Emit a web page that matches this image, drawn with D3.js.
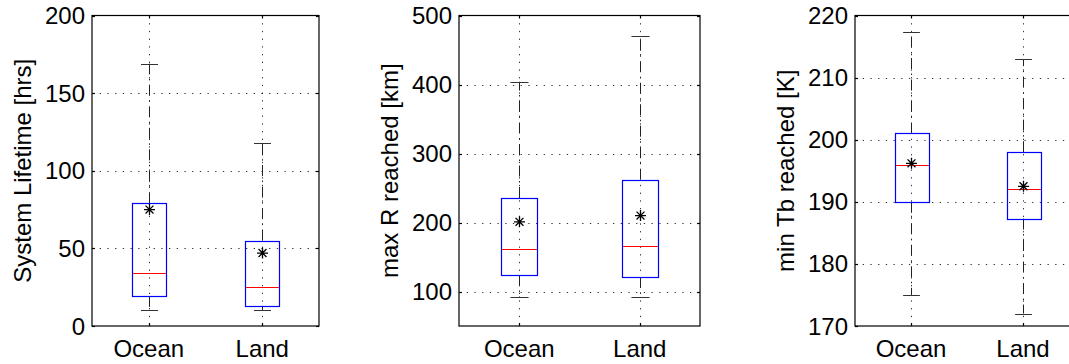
<!DOCTYPE html>
<html>
<head>
<meta charset="utf-8">
<script src="https://cdn.jsdelivr.net/npm/d3@7"></script>
<style>
  html, body { margin: 0; padding: 0; background: #fff; }
  svg { display: block; }
  text { font-family: "Liberation Sans", Arial, Helvetica, sans-serif; fill: #000; }
</style>
</head>
<body>
<svg id="chart" width="1069" height="364"></svg>
<script>
// Groups shown on every panel
const categories = ["Ocean", "Land"];

// Box statistics per group: [lower whisker, Q1, median, Q3, upper whisker]
const lifetimeStats = [[10, 19.3, 34, 79, 169], [10, 13, 25, 55, 118]];
const lifetimeMeans = [75, 47];
const lifetimeTicks = [0, 50, 100, 150, 200];

const radiusStats = [[92, 124, 161, 235.5, 404], [92, 121, 166, 262, 470]];
const radiusMeans = [201, 210];
const radiusTicks = [100, 200, 300, 400, 500];

const tbStats = [[175, 190, 196, 201, 217.3], [172, 187.3, 192, 198, 213]];
const tbMeans = [196.2, 192.5];
const tbTicks = [170, 180, 190, 200, 210, 220];

const panels = [
  { label: "System Lifetime [hrs]", stats: lifetimeStats, means: lifetimeMeans, ticks: lifetimeTicks,
    domain: [0, 200], left: 92, width: 227 },
  { label: "max R reached [km]", stats: radiusStats, means: radiusMeans, ticks: radiusTicks,
    domain: [50, 500], left: 459, width: 241 },
  { label: "min Tb reached [K]", stats: tbStats, means: tbMeans, ticks: tbTicks,
    domain: [170, 220], left: 855, width: 224 }
];

const plotTop = 15.5, plotBottom = 326;
const svg = d3.select("#chart");

panels.forEach(p => {
  const g = svg.append("g");
  const x = d3.scaleLinear().domain([0.5, categories.length + 0.5]).range([p.left, p.left + p.width]);
  const y = d3.scaleLinear().domain(p.domain).range([plotBottom, plotTop]);
  const step = x(2) - x(1);
  const boxW = step * 0.3;
  const capW = boxW / 2;
  const px = v => Math.round(v) + 0.5;

  // dotted grid
  const grid = g.append("g").attr("stroke", "#000").attr("stroke-width", 1)
    .attr("stroke-dasharray", "1.3,6.4").attr("fill", "none");
  p.ticks.filter(t => t > p.domain[0] && t < p.domain[1]).forEach(t => {
    grid.append("line").attr("x1", p.left).attr("x2", p.left + p.width)
      .attr("y1", px(y(t))).attr("y2", px(y(t))).attr("stroke-opacity", 0.8);
  });
  categories.forEach((c, i) => {
    grid.append("line").attr("x1", px(x(i + 1))).attr("x2", px(x(i + 1)))
      .attr("y1", plotTop).attr("y2", plotBottom).attr("stroke-opacity", 0.8);
  });

  // boxes
  categories.forEach((c, i) => {
    const [lo, q1, med, q3, hi] = p.stats[i];
    const cx = px(x(i + 1));
    const wh = g.append("g").attr("stroke", "#222").attr("stroke-width", 1)
      .attr("stroke-dasharray", "11,4.5,1.5,4.5").attr("fill", "none");
    wh.append("line").attr("x1", cx).attr("x2", cx).attr("y1", y(q3)).attr("y2", y(hi));
    wh.append("line").attr("x1", cx).attr("x2", cx).attr("y1", y(q1)).attr("y2", y(lo));
    [lo, hi].forEach(v => {
      g.append("line").attr("x1", cx - capW / 2).attr("x2", cx + capW / 2)
        .attr("y1", px(y(v))).attr("y2", px(y(v))).attr("stroke", "#333").attr("stroke-width", 1);
    });
    g.append("rect").attr("x", px(cx - boxW / 2)).attr("y", px(y(q3)))
      .attr("width", Math.round(boxW)).attr("height", px(y(q1)) - px(y(q3)))
      .attr("fill", "none").attr("stroke", "#0000ff").attr("stroke-width", 1.2);
    g.append("line").attr("x1", px(cx - boxW / 2) + 0.6).attr("x2", px(cx - boxW / 2) + Math.round(boxW) - 0.6)
      .attr("y1", px(y(med))).attr("y2", px(y(med))).attr("stroke", "#ff0000").attr("stroke-width", 1.2);

    // mean marker (asterisk)
    const my = y(p.means[i]), r = 5.5, d = r * 0.72;
    g.append("path")
      .attr("d", `M${cx - r},${my}H${cx + r}M${cx},${my - r}V${my + r}` +
                 `M${cx - d},${my - d}L${cx + d},${my + d}M${cx - d},${my + d}L${cx + d},${my - d}`)
      .attr("stroke", "#000").attr("stroke-width", 1.3).attr("fill", "none");
  });

  // axes frame with inward ticks
  const frame = g.append("g").attr("stroke", "#000").attr("stroke-width", 1.2).attr("fill", "none");
  frame.append("rect").attr("x", p.left).attr("y", plotTop).attr("width", p.width).attr("height", plotBottom - plotTop);
  p.ticks.forEach(t => {
    frame.append("line").attr("x1", p.left).attr("x2", p.left + 3).attr("y1", px(y(t))).attr("y2", px(y(t)));
    frame.append("line").attr("x1", p.left + p.width - 3).attr("x2", p.left + p.width).attr("y1", px(y(t))).attr("y2", px(y(t)));
  });
  categories.forEach((c, i) => {
    frame.append("line").attr("x1", px(x(i + 1))).attr("x2", px(x(i + 1))).attr("y1", plotBottom).attr("y2", plotBottom - 3);
    frame.append("line").attr("x1", px(x(i + 1))).attr("x2", px(x(i + 1))).attr("y1", plotTop).attr("y2", plotTop + 3);
  });

  // tick labels
  g.selectAll("text.yt").data(p.ticks).join("text")
    .attr("x", p.left - 7).attr("y", t => y(t) + 8.5)
    .attr("text-anchor", "end").attr("font-size", 24).text(t => t);
  g.selectAll("text.xt").data(categories).join("text")
    .attr("x", (c, i) => x(i + 1)).attr("y", plotBottom + 30.5)
    .attr("text-anchor", "middle").attr("font-size", 24).text(c => c);

  // y-axis title
  g.append("text")
    .attr("transform", `translate(${p.left - 61.5},${(plotTop + plotBottom) / 2}) rotate(-90)`)
    .attr("text-anchor", "middle").attr("font-size", 24).text(p.label);
});
</script>
</body>
</html>
